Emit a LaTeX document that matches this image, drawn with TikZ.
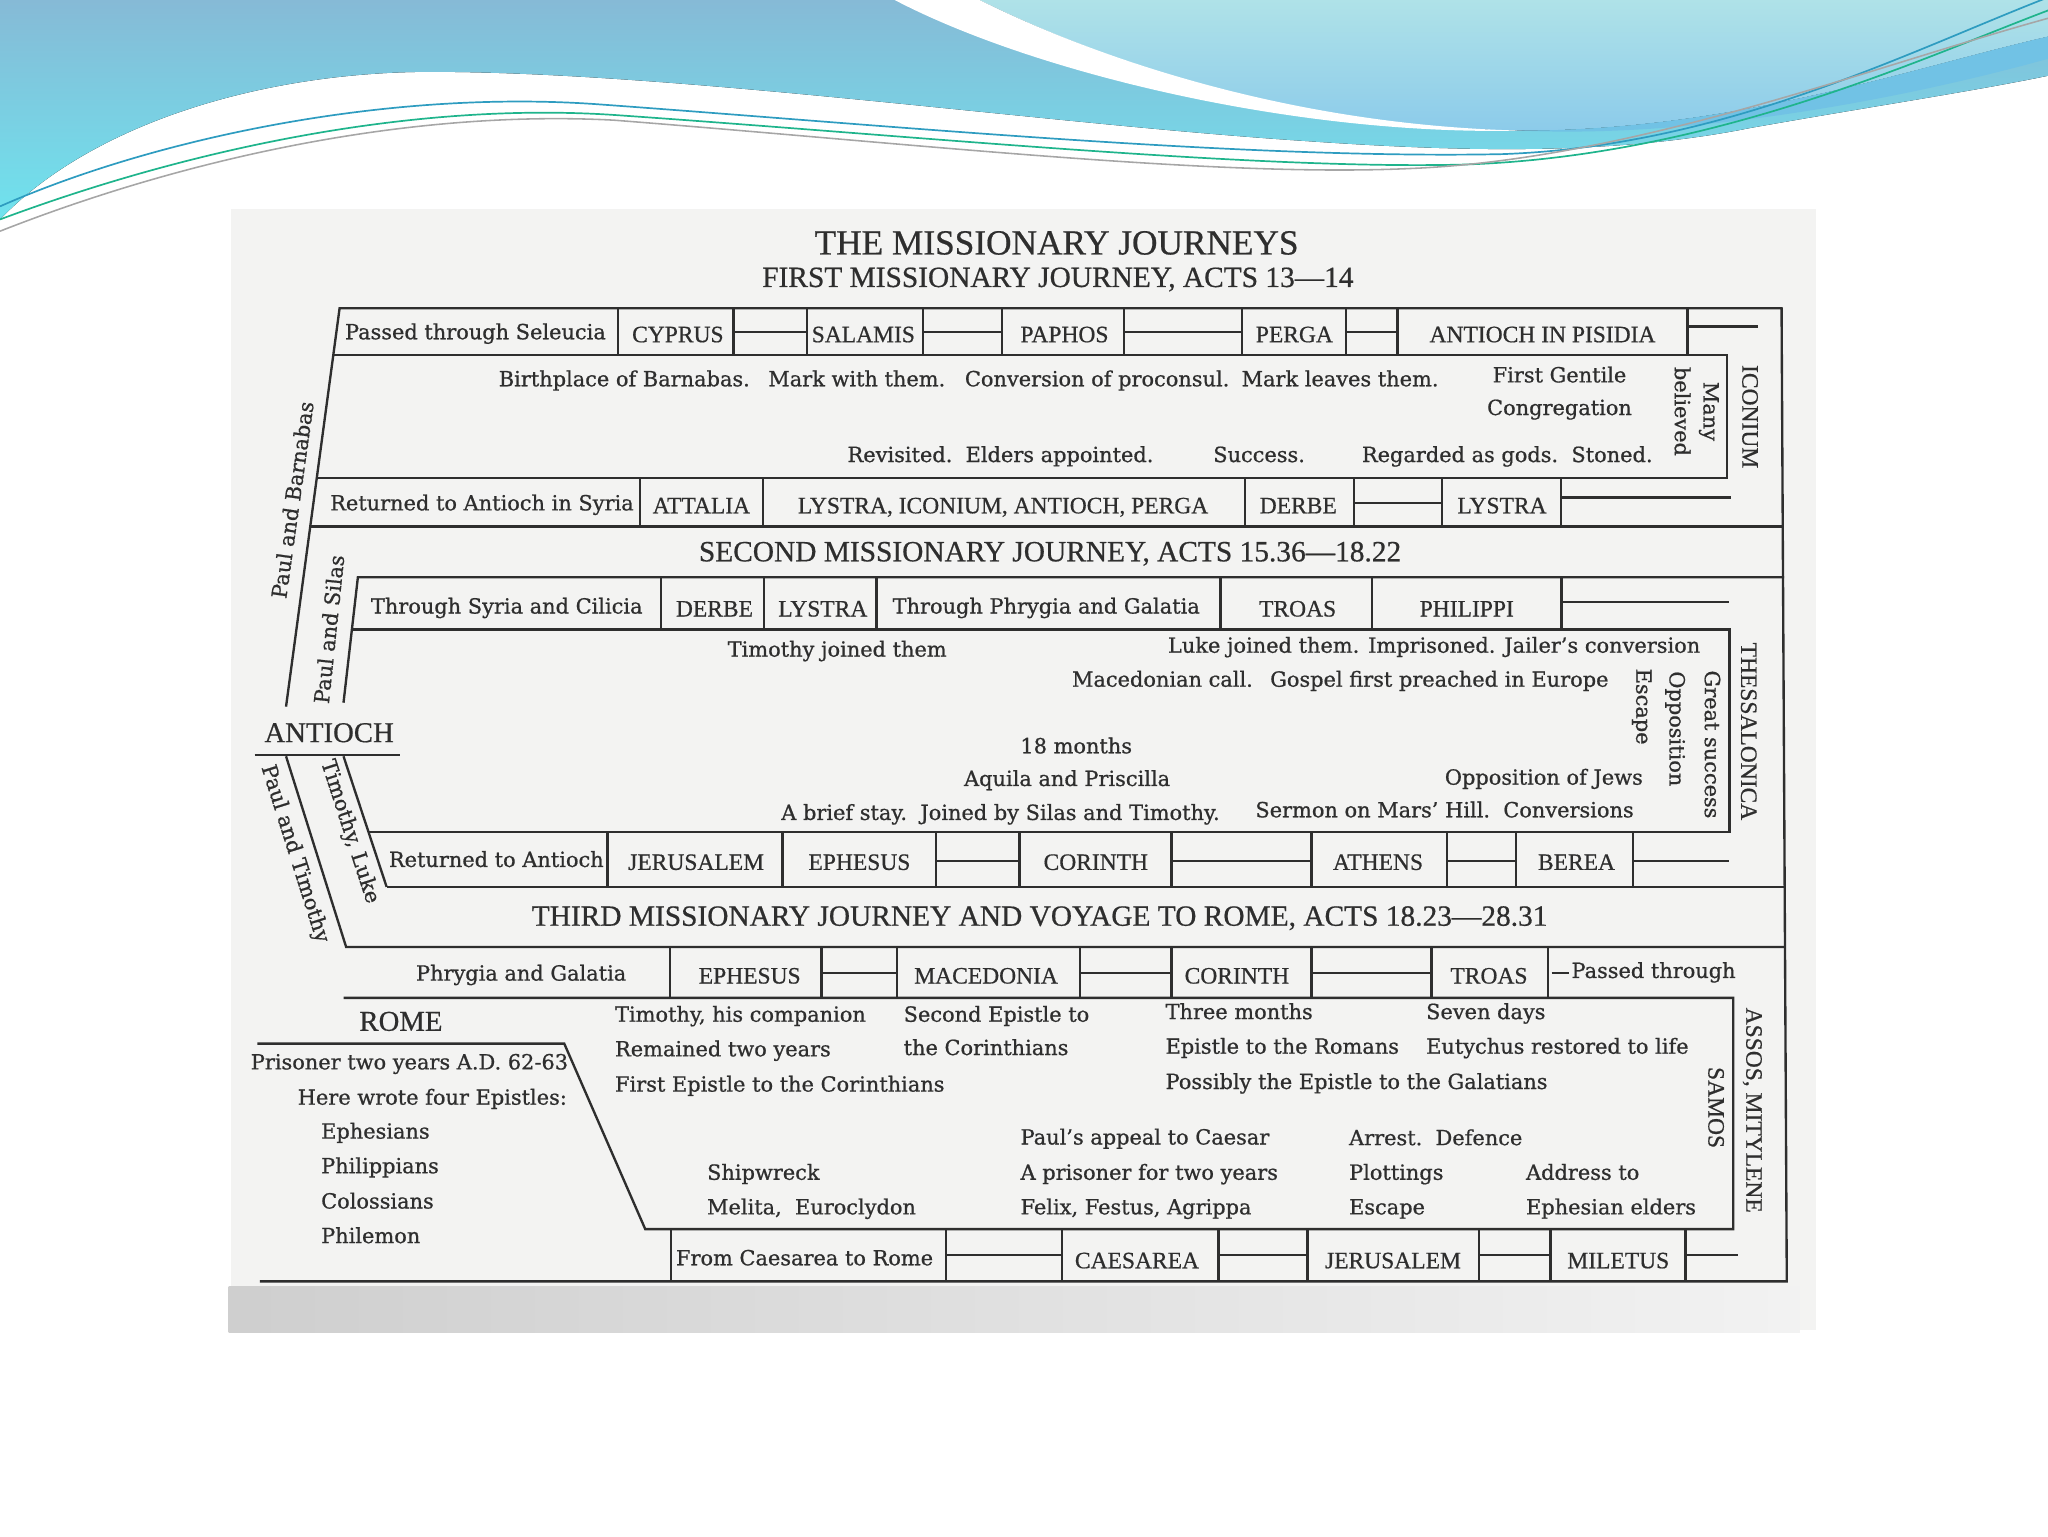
\documentclass[tikz,border=0pt]{standalone}
\usepackage{fontspec}
\setmainfont{DejaVu Serif}[FakeBold=0.8]
\newfontfamily\capfont{Liberation Serif}[FakeBold=0.6]
\definecolor{ink}{HTML}{2E2E2E}
\definecolor{paper}{HTML}{F3F3F2}
\definecolor{skytop}{HTML}{86BAD6}
\definecolor{skybot}{HTML}{6FE3EE}
\definecolor{pale}{HTML}{AFE2E8}
\definecolor{palebot}{HTML}{8CCBEA}
\definecolor{ribbon}{HTML}{4DB3DF}
\definecolor{wavea}{HTML}{2E9CC0}
\definecolor{waveb}{HTML}{1FB48C}
\begin{document}
\begin{tikzpicture}[x=1pt, y=-1pt, line width=1.8pt,
  txt/.style={font=\fontsize{16}{18}\selectfont, text=ink, inner sep=0pt, text height=11pt, text depth=3.5pt},
  plc/.style={font=\capfont\fontsize{18}{20}\selectfont, text=ink, inner sep=0pt, text height=12pt, text depth=0pt},
  hd/.style={font=\capfont\fontsize{22.5}{26}\selectfont, text=ink, inner sep=0pt},
  rul/.style={draw=ink, line width=1.8pt}]
  \useasboundingbox (0,0) rectangle (1568,1176);
  % 물결 머리
  \fill[top color=skytop, bottom color=skybot] (0,0) -- (0,168) .. controls (70,95) and (200,55) .. (330,55) .. controls (520,55) and (800,95) .. (1000,108) .. controls (1130,117) and (1240,118) .. (1340,98) .. controls (1430,82) and (1510,70) .. (1568,58) -- (1568,0) -- cycle;
  \fill[top color=pale, bottom color=palebot] (750,0) .. controls (840,45) and (990,98) .. (1165,100) .. controls (1330,100) and (1470,50) .. (1568,28) -- (1568,0) -- cycle;
  \fill[ribbon!80] (1165,100) .. controls (1330,100) and (1470,50) .. (1568,28) -- (1568,45) .. controls (1460,75) and (1300,106) .. (1165,100) -- cycle;
  \fill[white] (685,0) .. controls (790,55) and (990,104) .. (1165,100) .. controls (990,96) and (840,45) .. (750,0) -- cycle;
  \draw[wavea, line width=1.3pt] (0,158) .. controls (120,105) and (300,68) .. (460,80) .. controls (680,96) and (950,122) .. (1150,118) .. controls (1320,112) and (1460,40) .. (1568,-2);
  \draw[waveb, line width=1.3pt] (0,168) .. controls (150,112) and (320,78) .. (470,88) .. controls (700,104) and (960,130) .. (1120,126) .. controls (1310,120) and (1470,45) .. (1568,8);
  \draw[gray!70, line width=1.2pt] (0,177) .. controls (150,118) and (320,84) .. (470,92) .. controls (700,110) and (930,136) .. (1080,129) .. controls (1250,122) and (1430,52) .. (1568,14);
  % 종이
  \fill[paper] (177,160) rectangle (1390,1018);
  \shade[left color=gray!38, right color=gray!10] (175,985) rectangle (1378,1020);
  % 제목
  \node[hd, font=\capfont\fontsize{27}{30}\selectfont] (title) at (809,186) {THE MISSIONARY JOURNEYS};
  \node[hd] (first) at (810,214) {FIRST MISSIONARY JOURNEY, ACTS 13—14};
  \node[hd] (second) at (804,424) {SECOND MISSIONARY JOURNEY, ACTS 15.36—18.22};
  \node[hd] (third) at (796,703) {THIRD MISSIONARY JOURNEY AND VOYAGE TO ROME, ACTS 18.23—28.31};
  % 바깥 테두리
  \draw[rul] (199,981) -- (1368,981) -- (1364,236) -- (260,236) -- (219,541);
  % 첫째 여행
  \draw[rul] (255,272) -- (1322,272) -- (1322,366) -- (242,366);
  \draw[rul] (237,403) -- (1365,403);
  \foreach \x in {473,561.5,618,706.5,767,860.5,951,1030.5,1070,1292}
    \draw[rul] (\x,236) -- (\x,272);
  \foreach \a/\b in {561.5/618,706.5/767,860.5/951,1030.5/1070}
    \draw[rul] (\a,254) -- (\b,254);
  \draw[rul] (1292,250) -- (1346,250);
  \foreach \x in {490,584,953,1036.5,1104,1195}
    \draw[rul] (\x,366) -- (\x,403);
  \draw[rul] (1036.5,385) -- (1104,385);
  \draw[rul] (1195,381) -- (1325,381);
  \node[txt] (seleucia) at (364,256) {Passed through Seleucia};
  \node[plc] (cyprus) at (519,256) {CYPRUS};
  \node[plc] (salamis) at (661,256) {SALAMIS};
  \node[plc] (paphos) at (815,256) {PAPHOS};
  \node[plc] (perga) at (991,256) {PERGA};
  \node[plc] (pisidia) at (1181,256) {ANTIOCH IN PISIDIA};
  \node[txt] (birth) at (478,292) {Birthplace of Barnabas.};
  \node[txt] (markwith) at (656,292) {Mark with them.};
  \node[txt] (procon) at (840,292) {Conversion of proconsul.};
  \node[txt] (markleaves) at (1026,292) {Mark leaves them.};
  \node[txt] (gentile) at (1194,289) {First Gentile};
  \node[txt] (congreg) at (1194,314) {Congregation};
  \node[txt, rotate=-90] (many) at (1308,315) {Many};
  \node[txt, rotate=-90] (believed) at (1286,315) {believed};
  \node[plc, rotate=-90] (iconium) at (1340,319) {ICONIUM};
  \node[txt] (revisited) at (766,350) {Revisited.\ \ Elders appointed.};
  \node[txt] (success) at (964,350) {Success.};
  \node[txt] (stoned) at (1154,350) {Regarded as gods.\ \ Stoned.};
  \node[txt] (retsyria) at (369,387) {Returned to Antioch in Syria};
  \node[plc] (attalia) at (537,387) {ATTALIA};
  \node[plc] (lystras) at (768,387) {LYSTRA, ICONIUM, ANTIOCH, PERGA};
  \node[plc] (derbe1) at (994,387) {DERBE};
  \node[plc] (lystra1) at (1150,387) {LYSTRA};
  \node[txt, rotate=82] (barnabas) at (226,383) {Paul and Barnabas};
  % 둘째 여행
  \draw[rul] (263,538) -- (274,442) -- (1366,442);
  \draw[rul] (269.5,482) -- (1324,482) -- (1324,637) -- (282,637);
  \draw[rul] (296,679) -- (1366,679);
  \foreach \x in {506,585,671,934.5,1050.5,1195.5}
    \draw[rul] (\x,442) -- (\x,482);
  \draw[rul] (1197,461) -- (1324,461);
  \foreach \x in {465,599,716.5,780.5,897,1004,1108,1160.5,1250}
    \draw[rul] (\x,637) -- (\x,679);
  \foreach \a/\b in {716.5/780.5,897/1004,1108/1160.5,1250/1324}
    \draw[rul] (\a,659) -- (\b,659);
  \node[txt, rotate=84] (silas) at (254,482) {Paul and Silas};
  \node[txt] (syria) at (388,466) {Through Syria and Cilicia};
  \node[plc] (derbe2) at (547,466) {DERBE};
  \node[plc] (lystra2) at (630,466) {LYSTRA};
  \node[txt] (phrygia1) at (801,466) {Through Phrygia and Galatia};
  \node[plc] (troas1) at (993.5,466) {TROAS};
  \node[plc] (philippi) at (1123,466) {PHILIPPI};
  \node[txt] (timjoin) at (641,499) {Timothy joined them};
  \node[txt] (luke) at (1098,496) {Luke joined them. Imprisoned. Jailer's conversion};
  \node[txt] (maccall) at (890,522) {Macedonian call.};
  \node[txt] (gospel) at (1102,522) {Gospel first preached in Europe};
  \node[txt, rotate=-90] (escape1) at (1256.5,541) {Escape};
  \node[txt, rotate=-90] (oppos) at (1282,558) {Opposition};
  \node[txt, rotate=-90] (great) at (1309,570) {Great success};
  \node[plc, rotate=-90] (thess) at (1339,560) {THESSALONICA};
  \node[txt] (months18) at (824,573) {18 months};
  \node[txt] (aquila) at (817,598) {Aquila and Priscilla};
  \node[txt] (jews) at (1182,597) {Opposition of Jews};
  \node[txt] (brief) at (766,624) {A brief stay.\ \ Joined by Silas and Timothy.};
  \node[txt] (mars) at (1106,622) {Sermon on Mars' Hill.\ \ Conversions};
  \node[txt] (retant) at (380,660) {Returned to Antioch};
  \node[plc] (jerus1) at (533,660) {JERUSALEM};
  \node[plc] (ephesus1) at (658,660) {EPHESUS};
  \node[plc] (corinth1) at (839,660) {CORINTH};
  \node[plc] (athens) at (1055,660) {ATHENS};
  \node[plc] (berea) at (1207,660) {BEREA};
  % 안디옥
  \node[hd, font=\capfont\fontsize{22}{24}\selectfont] (antioch) at (252,561) {ANTIOCH};
  \draw[rul] (195,578) -- (306,578);
  \draw[rul] (263,579) -- (296,679);
  \draw[rul] (219,579) -- (265,725) -- (1367,725);
  \node[txt, rotate=-72.5] (pautim) at (225,654) {Paul and Timothy};
  \node[txt, rotate=-72] (timluke) at (267,637) {Timothy, Luke};
  % 셋째 여행
  \draw[rul] (263,764) -- (1327,764) -- (1327,941) -- (494,941) -- (432,799) -- (197,799);
  \foreach \x in {513,629,687,827,897,1004,1096,1185}
    \draw[rul] (\x,725) -- (\x,764);
  \foreach \a/\b in {629/687,827/897,1004/1096,1188/1201}
    \draw[rul] (\a,745) -- (\b,745);
  \foreach \x in {513.5,724.5,813,933,1001,1132.5,1187,1290.5}
    \draw[rul] (\x,941) -- (\x,981);
  \foreach \a/\b in {724.5/813,933/1001,1132.5/1187,1290.5/1331}
    \draw[rul] (\a,961) -- (\b,961);
  \node[txt] (phrygia2) at (399,747) {Phrygia and Galatia};
  \node[plc] (ephesus2) at (574,747) {EPHESUS};
  \node[plc] (macedonia) at (755,747) {MACEDONIA};
  \node[plc] (corinth2) at (947,747) {CORINTH};
  \node[plc] (troas2) at (1140,747) {TROAS};
  \node[txt] (passed) at (1266,745) {Passed through};
  \node[txt, anchor=west] (timcomp) at (470,778.5) {Timothy, his companion};
  \node[txt, anchor=west] (remained) at (470,805) {Remained two years};
  \node[txt, anchor=west] (firstep) at (470,832) {First Epistle to the Corinthians};
  \node[txt, anchor=west] (secondep) at (691,778.5) {Second Epistle to};
  \node[txt, anchor=west] (thecor) at (691,804) {the Corinthians};
  \node[txt, anchor=west] (three) at (891.5,776.5) {Three months};
  \node[txt, anchor=west] (romans) at (891.5,803) {Epistle to the Romans};
  \node[txt, anchor=west] (galat) at (891.5,830) {Possibly the Epistle to the Galatians};
  \node[txt, anchor=west] (seven) at (1091,776.5) {Seven days};
  \node[txt, anchor=west] (eutych) at (1091,803) {Eutychus restored to life};
  \node[txt, anchor=west] (appeal) at (780.5,872.5) {Paul's appeal to Caesar};
  \node[txt, anchor=west] (prisoner) at (780.5,899.5) {A prisoner for two years};
  \node[txt, anchor=west] (felix) at (780.5,926) {Felix, Festus, Agrippa};
  \node[txt, anchor=west] (arrest) at (1032,873) {Arrest.\ \ Defence};
  \node[txt, anchor=west] (plot) at (1032,899.5) {Plottings};
  \node[txt, anchor=west] (escape2) at (1032,926) {Escape};
  \node[txt, anchor=west] (address) at (1167.5,899.5) {Address to};
  \node[txt, anchor=west] (elders) at (1167.5,926) {Ephesian elders};
  \node[txt, anchor=west] (ship) at (540.5,899.5) {Shipwreck};
  \node[txt, anchor=west] (melita) at (540.5,926) {Melita,\ \ Euroclydon};
  \node[plc, rotate=-90] (samos) at (1314,848) {SAMOS};
  \node[plc, rotate=-90] (assos) at (1343,850) {ASSOS, MITYLENE};
  \node[txt] (caesrome) at (616,965) {From Caesarea to Rome};
  \node[plc] (caesarea) at (870.5,965) {CAESAREA};
  \node[plc] (jerus2) at (1066.5,965) {JERUSALEM};
  \node[plc] (miletus) at (1239,965) {MILETUS};
  % 로마
  \node[hd, font=\capfont\fontsize{22}{24}\selectfont] (rome) at (307,782) {ROME};
  \node[txt] (twoyears) at (313.5,815) {Prisoner two years A.D. 62-63};
  \node[txt] (fourep) at (331,842) {Here wrote four Epistles:};
  \node[txt, anchor=west] (ephes) at (245,868) {Ephesians};
  \node[txt, anchor=west] (philip) at (245,894.5) {Philippians};
  \node[txt, anchor=west] (coloss) at (245,921.5) {Colossians};
  \node[txt, anchor=west] (philem) at (245,948) {Philemon};
\end{tikzpicture}
\end{document}
